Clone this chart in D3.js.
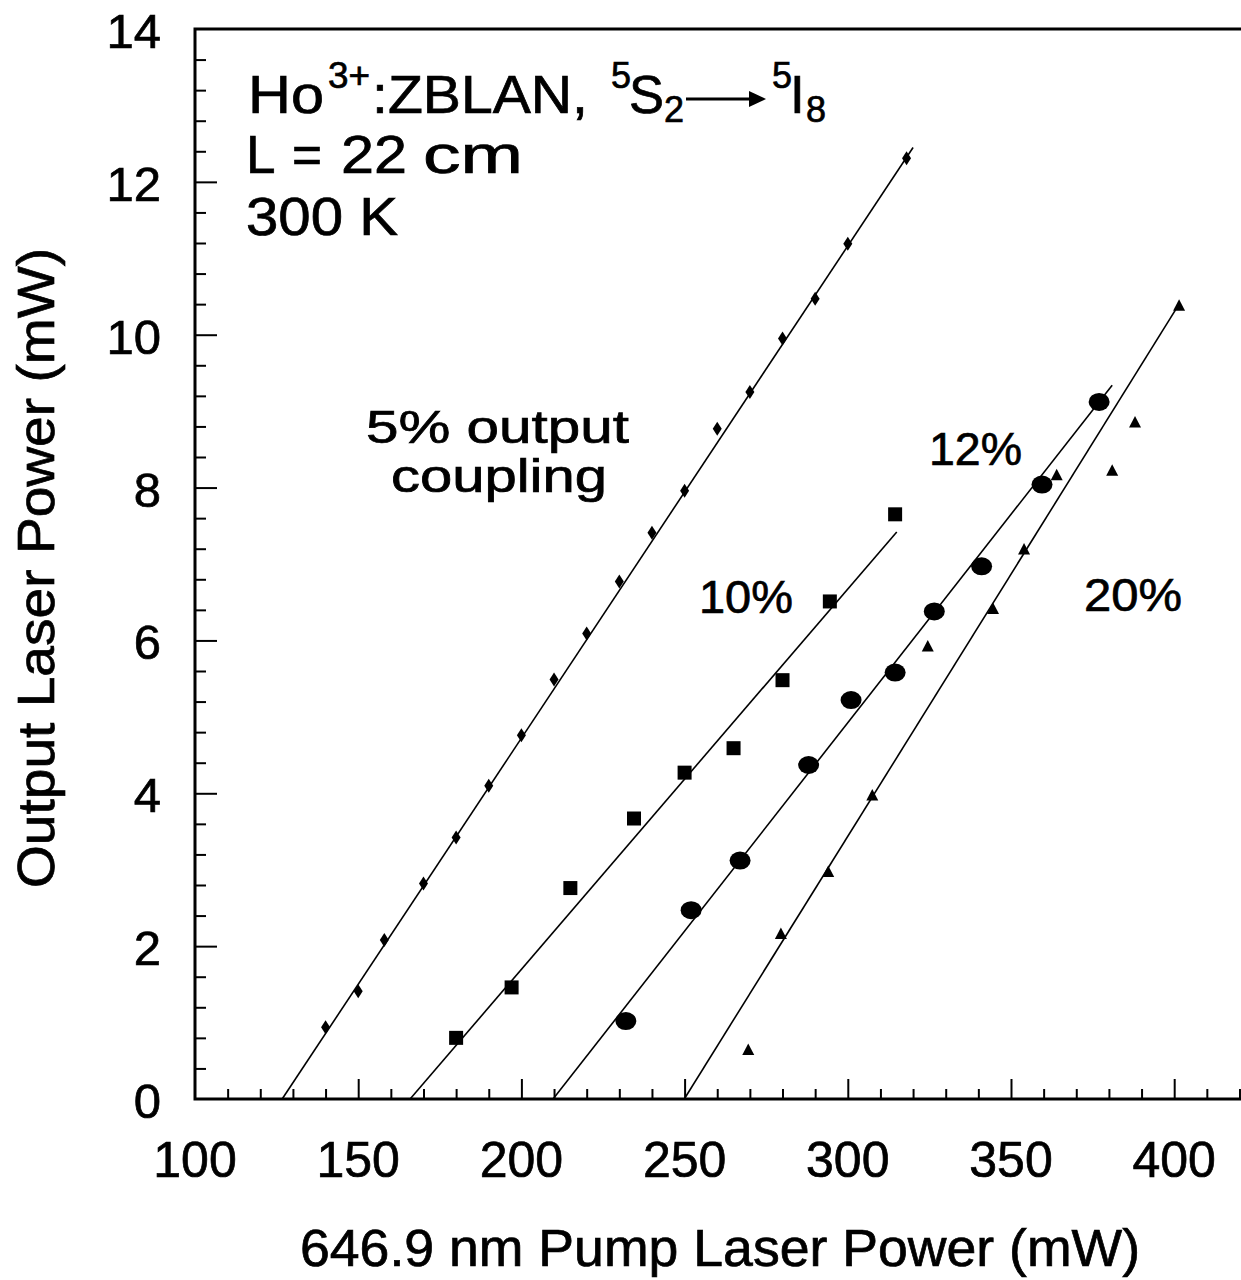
<!DOCTYPE html>
<html>
<head>
<meta charset="utf-8">
<script src="https://cdn.jsdelivr.net/npm/d3@7"></script>
<style>
  html, body { margin: 0; padding: 0; background: #fff; }
  svg { display: block; }
  text { font-family: "Liberation Sans", Arial, Helvetica, sans-serif; fill: #000; stroke: #000; stroke-width: 0.7px; }
</style>
</head>
<body>
<svg id="chart" width="1241" height="1280"></svg>
<script>
// Pump power (mW) and output laser power (mW) for each output coupler
const pump5 = [140, 150, 158, 170, 180, 190, 200, 210, 220, 230, 240, 250, 260, 270, 280, 290, 300, 318];
const out5  = [0.94, 1.41, 2.08, 2.82, 3.42, 4.10, 4.76, 5.49, 6.09, 6.77, 7.41, 7.96, 8.77, 9.25, 9.95, 10.47, 11.19, 12.31];

const pump10 = [180, 197, 215, 234.5, 250, 265, 280, 294.5, 314.5];
const out10  = [0.80, 1.46, 2.76, 3.67, 4.27, 4.59, 5.48, 6.51, 7.65];

const pump12 = [232, 252, 267, 288, 301, 314.5, 326.5, 341, 359.5, 377];
const out12  = [1.02, 2.47, 3.12, 4.37, 5.22, 5.58, 6.38, 6.97, 8.04, 9.12];

const pump20 = [269.5, 279.5, 294, 307.5, 324.5, 344.5, 354, 364, 381, 388, 401.5];
const out20  = [0.64, 2.16, 2.97, 3.97, 5.92, 6.41, 7.19, 8.16, 8.22, 8.85, 10.38];

// Linear fits: [pump at start, output at start, pump at end, output at end]
const fit5  = [126.7, 0, 320, 12.45];
const fit10 = [165.9, 0, 315, 7.42];
const fit12 = [209.7, 0, 381, 9.34];
const fit20 = [249.9, 0, 401.5, 10.4];

const xTickLabels = [100, 150, 200, 250, 300, 350, 400];
const yTickLabels = [0, 2, 4, 6, 8, 10, 12, 14];

const svg = d3.select("#chart");
const padL = 195, padB = 1099, padT = 29, padR = 1246;

const x = d3.scaleLinear().domain([100, 422]).range([padL, padR]);
const y = d3.scaleLinear().domain([0, 14]).range([padB, padT]);

// Frame: left, bottom and top edges (right edge lies outside the view)
svg.append("path")
  .attr("d", `M${padR},${padT}H${padL}V${padB}H${padR}`)
  .attr("fill", "none").attr("stroke", "#000").attr("stroke-width", 3);

// Inward ticks on the x axis
const xMinor = d3.range(110, 421, 10).filter(v => v % 50 !== 0);
const xMajor = d3.range(150, 401, 50);
svg.append("g").attr("transform", `translate(0,${padB})`)
  .call(d3.axisTop(x).tickValues(xMinor).tickSize(10).tickFormat(""))
  .call(g => g.select(".domain").remove())
  .selectAll("line").attr("stroke-width", 2);
svg.append("g").attr("transform", `translate(0,${padB})`)
  .call(d3.axisTop(x).tickValues(xMajor).tickSize(20).tickFormat(""))
  .call(g => g.select(".domain").remove())
  .selectAll("line").attr("stroke-width", 2);

// Inward ticks on the y axis
const yMinor = d3.range(0.4, 14, 0.4).filter(v => Math.abs(v / 2 - Math.round(v / 2)) > 0.01);
const yMajor = d3.range(2, 14, 2);
svg.append("g").attr("transform", `translate(${padL},0)`)
  .call(d3.axisRight(y).tickValues(yMinor).tickSize(11).tickFormat(""))
  .call(g => g.select(".domain").remove())
  .selectAll("line").attr("stroke-width", 2);
svg.append("g").attr("transform", `translate(${padL},0)`)
  .call(d3.axisRight(y).tickValues(yMajor).tickSize(22).tickFormat(""))
  .call(g => g.select(".domain").remove())
  .selectAll("line").attr("stroke-width", 2);

// Tick labels
svg.append("g").selectAll("text").data(xTickLabels).join("text")
  .attr("x", d => x(d)).attr("y", 1177)
  .attr("text-anchor", "middle").attr("font-size", 50)
  .text(d => d);
svg.append("g").selectAll("text").data(yTickLabels).join("text")
  .attr("x", 161).attr("y", d => y(d) + 19)
  .attr("text-anchor", "end").attr("font-size", 49)
  .text(d => d);

// Axis titles
svg.append("text")
  .attr("x", 300).attr("y", 1266)
  .attr("font-size", 51)
  .attr("textLength", 840).attr("lengthAdjust", "spacingAndGlyphs")
  .text("646.9 nm Pump Laser Power (mW)");
svg.append("text")
  .attr("transform", "translate(54,888) rotate(-90)")
  .attr("font-size", 52)
  .attr("textLength", 640).attr("lengthAdjust", "spacingAndGlyphs")
  .text("Output Laser Power (mW)");

// Fitted lines
const fits = [fit5, fit10, fit12, fit20];
svg.append("g").selectAll("line").data(fits).join("line")
  .attr("x1", d => x(d[0])).attr("y1", d => y(d[1]))
  .attr("x2", d => x(d[2])).attr("y2", d => y(d[3]))
  .attr("stroke", "#000").attr("stroke-width", 1.6);

// Markers
const zip = (xs, ys) => xs.map((v, i) => [v, ys[i]]);
svg.append("g").selectAll("path").data(zip(pump5, out5)).join("path")
  .attr("transform", d => `translate(${x(d[0])},${y(d[1])})`)
  .attr("d", "M0,-7L4.5,0L0,7L-4.5,0Z");
svg.append("g").selectAll("rect").data(zip(pump10, out10)).join("rect")
  .attr("x", d => x(d[0]) - 7).attr("y", d => y(d[1]) - 7)
  .attr("width", 14).attr("height", 14);
svg.append("g").selectAll("ellipse").data(zip(pump12, out12)).join("ellipse")
  .attr("cx", d => x(d[0])).attr("cy", d => y(d[1]))
  .attr("rx", 10.5).attr("ry", 9);
svg.append("g").selectAll("path").data(zip(pump20, out20)).join("path")
  .attr("transform", d => `translate(${x(d[0])},${y(d[1])})`)
  .attr("d", "M0,-6.5L6,5L-6,5Z");

// Text helper: left-anchored text, optionally fitted to a width
const txt = (tx, ty, s, size, len) => {
  const t = svg.append("text").attr("x", tx).attr("y", ty).attr("font-size", size).text(s);
  if (len) t.attr("textLength", len).attr("lengthAdjust", "spacingAndGlyphs");
  return t;
};

// Curve labels
txt(366, 443, "5% output", 46, 263);
txt(391, 492, "coupling", 46, 216);
txt(699, 613, "10%", 46, 94);
txt(929, 465, "12%", 46, 93);
txt(1084, 611, "20%", 46, 98);

// Sample description
txt(248, 113, "Ho", 53, 76);
txt(328, 88, "3+", 36, 42);
txt(372, 113, ":ZBLAN,", 53, 216);
txt(611, 88, "5", 36);
txt(629, 113, "S", 53, 35);
txt(664, 122, "2", 36);
const ay = 99, axStart = 686, axEnd = 766;
svg.append("line").attr("x1", axStart).attr("x2", axEnd - 12).attr("y1", ay).attr("y2", ay)
  .attr("stroke", "#000").attr("stroke-width", 3);
svg.append("path").attr("d", `M${axEnd},${ay}L${axEnd - 17},${ay - 8}L${axEnd - 17},${ay + 8}Z`);
txt(772, 88, "5", 36);
txt(790, 113, "I", 53);
txt(806, 122, "8", 36);

txt(246, 173, "L", 53);
txt(292, 173, "=", 53, 30);
txt(341, 173, "22", 53, 66);
txt(423, 173, "cm", 53, 100);
txt(246, 235, "300 K", 53, 152);
</script>
</body>
</html>
